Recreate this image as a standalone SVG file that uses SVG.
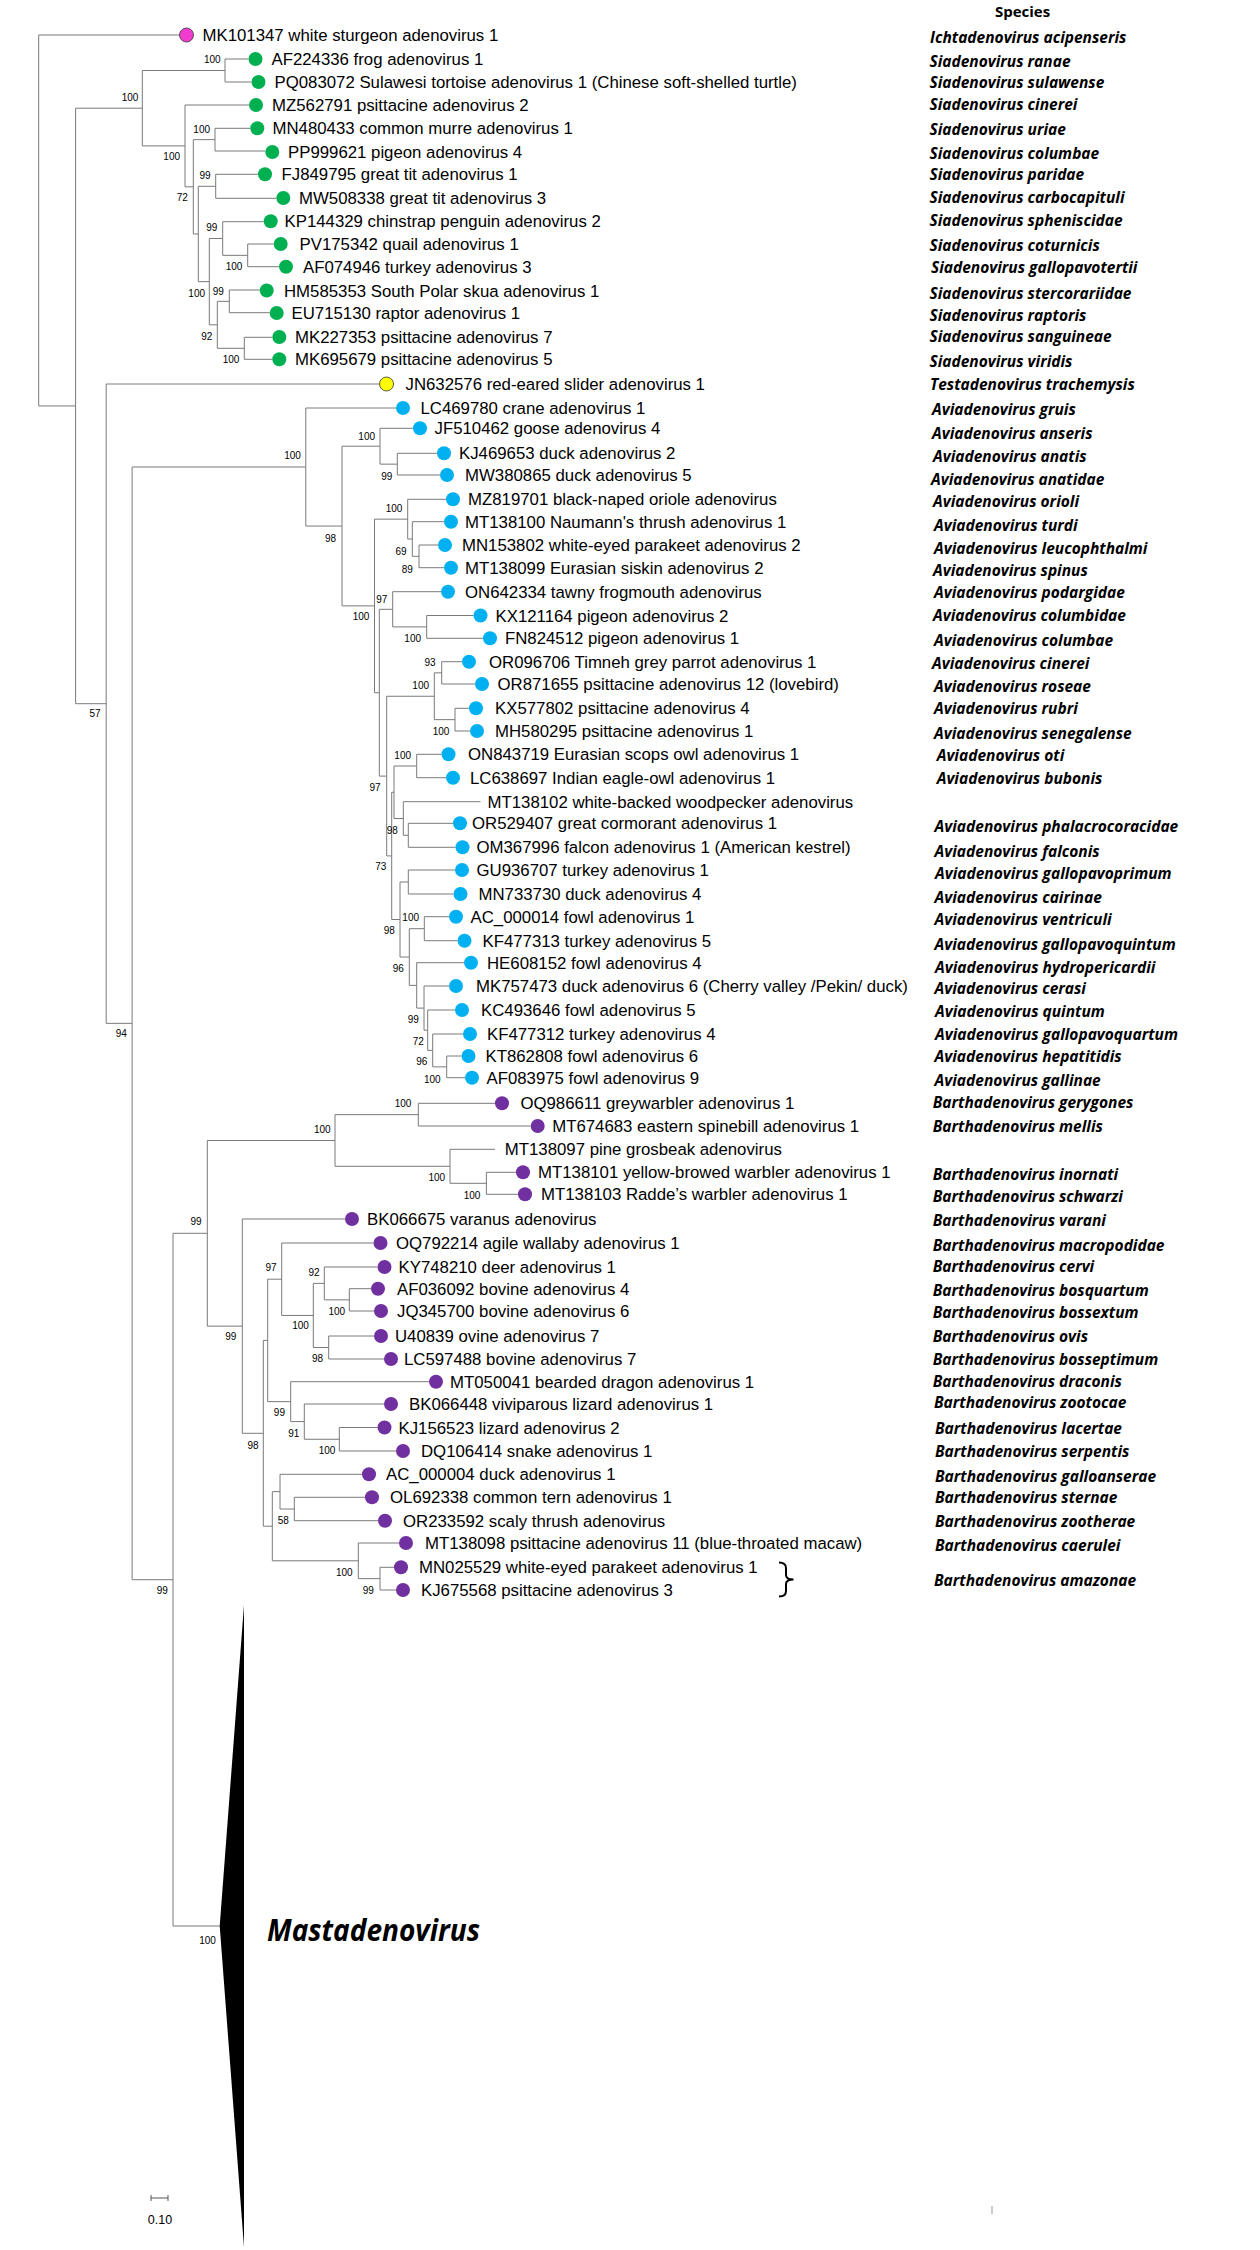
<svg xmlns="http://www.w3.org/2000/svg" width="1260" height="2250" viewBox="0 0 1260 2250">
<style>
.br{stroke:#7a7a7a;stroke-width:1;fill:none}
.lb{font-family:"Liberation Sans",Arial,sans-serif;font-size:16.8px;fill:#000}
.bs{font-family:"Liberation Sans Narrow","Liberation Sans",Arial,sans-serif;font-size:10px;fill:#000;text-anchor:middle}
.sp{font-family:"Open Sans","Noto Sans",sans-serif;font-weight:bold;font-style:italic;font-size:15.5px;fill:#000}
.g{fill:#00b050}.b{fill:#00b0f0}.p{fill:#7030a0}
.pk{fill:#f23ccf;stroke:#333;stroke-width:0.8}.yl{fill:#ffff00;stroke:#333;stroke-width:0.8}
</style>
<rect width="1260" height="2250" fill="#fff"/>
<g id="connectors" class="br">
<path d="M38.7,35 V405.95 M38.7,35 H179.5 M38.7,405.95 H75.6"/>
<path d="M75.6,108.2 V703.7 M75.6,108.2 H142.3 M75.6,703.7 H106.2"/>
<path d="M142.3,70.5 V145.9 M142.3,70.5 H225 M142.3,145.9 H185"/>
<path d="M225,59 V82 M225,59 H248.5 M225,82 H251.5"/>
<path d="M185,105 V186.8 M185,105 H249 M185,186.8 H193.3"/>
<path d="M193.3,139.65 V233.98 M193.3,139.65 H215 M193.3,233.98 H198.3"/>
<path d="M215,128.3 V151 M215,128.3 H250.3 M215,151 H265.3"/>
<path d="M198.3,186.3 V281.65 M198.3,186.3 H215.7 M198.3,281.65 H209.3"/>
<path d="M215.7,174.3 V198.3 M215.7,174.3 H258 M215.7,198.3 H276.3"/>
<path d="M209.3,238.5 V324.8 M209.3,238.5 H222.7 M209.3,324.8 H217.3"/>
<path d="M222.7,221.7 V255.35 M222.7,221.7 H263.7 M222.7,255.35 H247.7"/>
<path d="M247.7,244 V266.7 M247.7,244 H273.7 M247.7,266.7 H279"/>
<path d="M217.3,301.35 V348.3 M217.3,301.35 H229.3 M217.3,348.3 H244.3"/>
<path d="M229.3,290 V312.7 M229.3,290 H259.7 M229.3,312.7 H269.7"/>
<path d="M244.3,337.3 V359.3 M244.3,337.3 H272.3 M244.3,359.3 H272.3"/>
<path d="M106.2,384 V1023.35 M106.2,384 H379.5 M106.2,1023.35 H132.1"/>
<path d="M132.1,467 V1579.7 M132.1,467 H305.8 M132.1,1579.7 H173"/>
<path d="M305.8,408 V526.05 M305.8,408 H396 M305.8,526.05 H342"/>
<path d="M342,446.2 V605.9 M342,446.2 H380 M342,605.9 H374.5"/>
<path d="M380,428.3 V464.15 M380,428.3 H413 M380,464.15 H397.3"/>
<path d="M397.3,453.3 V475 M397.3,453.3 H437 M397.3,475 H440"/>
<path d="M374.5,519.15 V692.7 M374.5,519.15 H407.7 M374.5,692.7 H379.3"/>
<path d="M407.7,499.3 V539 M407.7,499.3 H446 M407.7,539 H412.3"/>
<path d="M412.3,521.7 V556.35 M412.3,521.7 H444 M412.3,556.35 H419"/>
<path d="M419,545 V567.7 M419,545 H438 M419,567.7 H444"/>
<path d="M379.3,609.3 V776.1 M379.3,609.3 H392.7 M379.3,776.1 H386.7"/>
<path d="M392.7,591.7 V626.9 M392.7,591.7 H441 M392.7,626.9 H426.7"/>
<path d="M426.7,615.5 V638.3 M426.7,615.5 H473.5 M426.7,638.3 H483"/>
<path d="M386.7,696.25 V855.9 M386.7,696.25 H434.3 M386.7,855.9 H391.7"/>
<path d="M434.3,672.85 V719.65 M434.3,672.85 H441.7 M434.3,719.65 H455"/>
<path d="M441.7,661.7 V684 M441.7,661.7 H462 M441.7,684 H475"/>
<path d="M455,708.3 V731 M455,708.3 H469 M455,731 H470"/>
<path d="M391.7,792.25 V919.5 M391.7,792.25 H394 M391.7,919.5 H400"/>
<path d="M394,766 V818.5 M394,766 H416.7 M394,818.5 H403.3"/>
<path d="M416.7,754.3 V777.7 M416.7,754.3 H441.5 M416.7,777.7 H446"/>
<path d="M403.3,801.7 V835.3 M403.3,801.7 H480.5 M403.3,835.3 H408.3"/>
<path d="M408.3,823.3 V847.3 M408.3,823.3 H453 M408.3,847.3 H455.5"/>
<path d="M400,882 V957.05 M400,882 H408.3 M400,957.05 H409.3"/>
<path d="M408.3,870 V894 M408.3,870 H455 M408.3,894 H453.5"/>
<path d="M409.3,928.7 V985.4 M409.3,928.7 H424.3 M409.3,985.4 H416.7"/>
<path d="M424.3,916.7 V940.7 M424.3,916.7 H449 M424.3,940.7 H457.5"/>
<path d="M416.7,962.7 V1008.1 M416.7,962.7 H464 M416.7,1008.1 H424"/>
<path d="M424,986 V1030.2 M424,986 H449 M424,1030.2 H427.7"/>
<path d="M427.7,1010 V1050.4 M427.7,1010 H455 M427.7,1050.4 H432.7"/>
<path d="M432.7,1034 V1066.85 M432.7,1034 H463 M432.7,1066.85 H446.7"/>
<path d="M446.7,1056 V1077.7 M446.7,1056 H461.5 M446.7,1077.7 H465"/>
<path d="M173,1233.3 V1926 M173,1233.3 H207.3 M173,1926 H219.7"/>
<path d="M207.3,1140.5 V1326.15 M207.3,1140.5 H335 M207.3,1326.15 H242.3"/>
<path d="M335,1114.65 V1166.3 M335,1114.65 H418.3 M335,1166.3 H450"/>
<path d="M418.3,1103.3 V1126 M418.3,1103.3 H495 M418.3,1126 H530.7"/>
<path d="M450,1149.3 V1183.3 M450,1149.3 H495 M450,1183.3 H486.4"/>
<path d="M486.4,1172.3 V1194.3 M486.4,1172.3 H516 M486.4,1194.3 H518"/>
<path d="M242.3,1219 V1433.3 M242.3,1219 H345 M242.3,1433.3 H263.3"/>
<path d="M263.3,1340.4 V1526.2 M263.3,1340.4 H267.7 M263.3,1526.2 H272.3"/>
<path d="M267.7,1279.2 V1401.65 M267.7,1279.2 H281.7 M267.7,1401.65 H290.7"/>
<path d="M281.7,1243 V1315.45 M281.7,1243 H373.5 M281.7,1315.45 H313.3"/>
<path d="M313.3,1283.4 V1347.5 M313.3,1283.4 H324.3 M313.3,1347.5 H328.7"/>
<path d="M324.3,1267 V1299.85 M324.3,1267 H377.5 M324.3,1299.85 H349.3"/>
<path d="M349.3,1288.7 V1311 M349.3,1288.7 H371 M349.3,1311 H374"/>
<path d="M328.7,1336 V1359 M328.7,1336 H374 M328.7,1359 H384"/>
<path d="M290.7,1381.7 V1421.6 M290.7,1381.7 H429 M290.7,1421.6 H304.3"/>
<path d="M304.3,1404 V1439.25 M304.3,1404 H384 M304.3,1439.25 H339.3"/>
<path d="M339.3,1427.5 V1451 M339.3,1427.5 H377.5 M339.3,1451 H396"/>
<path d="M272.3,1491.65 V1560.8 M272.3,1491.65 H280 M272.3,1560.8 H358.3"/>
<path d="M280,1474.3 V1509 M280,1474.3 H362 M280,1509 H294.3"/>
<path d="M294.3,1497.3 V1520.7 M294.3,1497.3 H365 M294.3,1520.7 H378"/>
<path d="M358.3,1543 V1578.65 M358.3,1543 H399 M358.3,1578.65 H380"/>
<path d="M380,1567.3 V1590 M380,1567.3 H394 M380,1590 H396"/>
</g>
<g id="support-values" class="bs">
<g id="n-sia"><text x="130" y="100.5">100</text></g>
<g id="n-frog"><text x="212.3" y="62.8">100</text></g>
<g id="n-s100b"><text x="171.7" y="160.2">100</text></g>
<g id="n-smp"><text x="201.7" y="132.5">100</text></g>
<g id="n-s72"><text x="182.3" y="201.2">72</text></g>
<g id="n-sgt"><text x="205" y="179.2">99</text></g>
<g id="n-s100c"><text x="196.7" y="296.8">100</text></g>
<g id="n-spqt"><text x="211.7" y="230.8">99</text></g>
<g id="n-sqt"><text x="234" y="270.2">100</text></g>
<g id="n-she"><text x="218.3" y="295.2">99</text></g>
<g id="n-s92"><text x="206.7" y="340.2">92</text></g>
<g id="n-smk"><text x="231" y="362.8">100</text></g>
<g id="n-57"><text x="95" y="716.5">57</text></g>
<g id="n-94"><text x="121.2" y="1036.8">94</text></g>
<g id="n-avi"><text x="292.5" y="459.2">100</text></g>
<g id="n-a98"><text x="330.5" y="541.5">98</text></g>
<g id="n-agoose"><text x="366.7" y="440.2">100</text></g>
<g id="n-aduck"><text x="386.7" y="480.2">99</text></g>
<g id="n-aor"><text x="394" y="511.8">100</text></g>
<g id="n-a69"><text x="401" y="554.5">69</text></g>
<g id="n-a89"><text x="407.3" y="572.5">89</text></g>
<g id="n-a97a"><text x="381.7" y="602.5">97</text></g>
<g id="n-an1"><text x="361" y="620.2">100</text></g>
<g id="n-apig"><text x="412.7" y="641.8">100</text></g>
<g id="n-atl"><text x="430" y="666.2">93</text></g>
<g id="n-apsi"><text x="420.7" y="689.2">100</text></g>
<g id="n-akm"><text x="441" y="735.2">100</text></g>
<g id="n-aowl"><text x="402.7" y="759.2">100</text></g>
<g id="n-an3"><text x="375" y="791">97</text></g>
<g id="n-an7"><text x="392.3" y="833.5">98</text></g>
<g id="n-an5"><text x="380.7" y="870.2">73</text></g>
<g id="n-aak"><text x="410.7" y="920.8">100</text></g>
<g id="n-an8"><text x="389.3" y="934.2">98</text></g>
<g id="n-an9"><text x="398.3" y="971.8">96</text></g>
<g id="n-an11"><text x="413.3" y="1022.8">99</text></g>
<g id="n-an12"><text x="418.3" y="1045.2">72</text></g>
<g id="n-an13"><text x="421.7" y="1065.2">96</text></g>
<g id="n-akt"><text x="432.3" y="1082.8">100</text></g>
<g id="n-bgs"><text x="403" y="1107.2">100</text></g>
<g id="n-b100"><text x="322.3" y="1132.8">100</text></g>
<g id="n-bpg"><text x="436.8" y="1180.8">100</text></g>
<g id="n-byr"><text x="472" y="1198.5">100</text></g>
<g id="n-barth"><text x="196" y="1225.2">99</text></g>
<g id="n-b99b"><text x="230.7" y="1340.2">99</text></g>
<g id="n-bag"><text x="271" y="1271.2">97</text></g>
<g id="n-b92"><text x="314" y="1276.2">92</text></g>
<g id="n-bbov"><text x="336.8" y="1315.2">100</text></g>
<g id="n-br"><text x="300.6" y="1329.2">100</text></g>
<g id="n-b98c"><text x="317.6" y="1362.2">98</text></g>
<g id="n-brep"><text x="279.4" y="1416.2">99</text></g>
<g id="n-b91"><text x="293.8" y="1437.2">91</text></g>
<g id="n-bkd"><text x="327" y="1454.2">100</text></g>
<g id="n-b98"><text x="253" y="1448.5">98</text></g>
<g id="n-b58"><text x="283.3" y="1524.2">58</text></g>
<g id="n-bm"><text x="344.3" y="1576.2">100</text></g>
<g id="n-b99d"><text x="368.3" y="1593.5">99</text></g>
<g id="n-99"><text x="162.3" y="1594">99</text></g>
<g id="n-masta"><text x="207.6" y="1943.5">100</text></g>
</g>
<g id="leaves" class="lb">
<g id="leaf-MK101347"><circle class="pk" cx="186.5" cy="35" r="7"/><text x="202.5" y="41">MK101347 white sturgeon adenovirus 1</text></g>
<g id="leaf-AF224336"><circle class="g" cx="255.5" cy="59" r="7"/><text x="271.5" y="65">AF224336 frog adenovirus 1</text></g>
<g id="leaf-PQ083072"><circle class="g" cx="258.5" cy="82" r="7"/><text x="274.5" y="88">PQ083072 Sulawesi tortoise adenovirus 1 (Chinese soft-shelled turtle)</text></g>
<g id="leaf-MZ562791"><circle class="g" cx="256" cy="105" r="7"/><text x="272" y="111">MZ562791 psittacine adenovirus 2</text></g>
<g id="leaf-MN480433"><circle class="g" cx="257.3" cy="128.3" r="7"/><text x="272.5" y="134.3">MN480433 common murre adenovirus 1</text></g>
<g id="leaf-PP999621"><circle class="g" cx="272.3" cy="152" r="7"/><text x="288" y="158">PP999621 pigeon adenovirus 4</text></g>
<g id="leaf-FJ849795"><circle class="g" cx="265" cy="174.3" r="7"/><text x="281.5" y="180.3">FJ849795 great tit adenovirus 1</text></g>
<g id="leaf-MW508338"><circle class="g" cx="283.3" cy="198" r="7"/><text x="299" y="204">MW508338 great tit adenovirus 3</text></g>
<g id="leaf-KP144329"><circle class="g" cx="270.7" cy="221.3" r="7"/><text x="284.5" y="227.3">KP144329 chinstrap penguin adenovirus 2</text></g>
<g id="leaf-PV175342"><circle class="g" cx="280.7" cy="244" r="7"/><text x="299.5" y="250">PV175342 quail adenovirus 1</text></g>
<g id="leaf-AF074946"><circle class="g" cx="286" cy="266.7" r="7"/><text x="303" y="272.7">AF074946 turkey adenovirus 3</text></g>
<g id="leaf-HM585353"><circle class="g" cx="266.7" cy="290.5" r="7"/><text x="284" y="296.5">HM585353 South Polar skua adenovirus 1</text></g>
<g id="leaf-EU715130"><circle class="g" cx="276.7" cy="313" r="7"/><text x="291.5" y="319">EU715130 raptor adenovirus 1</text></g>
<g id="leaf-MK227353"><circle class="g" cx="279.3" cy="337" r="7"/><text x="295" y="343">MK227353 psittacine adenovirus 7</text></g>
<g id="leaf-MK695679"><circle class="g" cx="279.3" cy="359.3" r="7"/><text x="295" y="365.3">MK695679 psittacine adenovirus 5</text></g>
<g id="leaf-JN632576"><circle class="yl" cx="386.5" cy="384" r="7"/><text x="405.5" y="390">JN632576 red-eared slider adenovirus 1</text></g>
<g id="leaf-LC469780"><circle class="b" cx="403" cy="408" r="7"/><text x="420.5" y="414">LC469780 crane adenovirus 1</text></g>
<g id="leaf-JF510462"><circle class="b" cx="420" cy="428.3" r="7"/><text x="434.5" y="434.3">JF510462 goose adenovirus 4</text></g>
<g id="leaf-KJ469653"><circle class="b" cx="444" cy="453.3" r="7"/><text x="459" y="459.3">KJ469653 duck adenovirus 2</text></g>
<g id="leaf-MW380865"><circle class="b" cx="447" cy="475" r="7"/><text x="465" y="481">MW380865 duck adenovirus 5</text></g>
<g id="leaf-MZ819701"><circle class="b" cx="453" cy="499.3" r="7"/><text x="468" y="505.3">MZ819701 black-naped oriole adenovirus</text></g>
<g id="leaf-MT138100"><circle class="b" cx="451" cy="521.7" r="7"/><text x="465" y="527.7">MT138100 Naumann's thrush adenovirus 1</text></g>
<g id="leaf-MN153802"><circle class="b" cx="445" cy="545" r="7"/><text x="462" y="551">MN153802 white-eyed parakeet adenovirus 2</text></g>
<g id="leaf-MT138099"><circle class="b" cx="451" cy="567.7" r="7"/><text x="465" y="573.7">MT138099 Eurasian siskin adenovirus 2</text></g>
<g id="leaf-ON642334"><circle class="b" cx="448" cy="591.7" r="7"/><text x="465" y="597.7">ON642334 tawny frogmouth adenovirus</text></g>
<g id="leaf-KX121164"><circle class="b" cx="480.5" cy="615.5" r="7"/><text x="495.5" y="621.5">KX121164 pigeon adenovirus 2</text></g>
<g id="leaf-FN824512"><circle class="b" cx="490" cy="638.3" r="7"/><text x="505" y="644.3">FN824512 pigeon adenovirus 1</text></g>
<g id="leaf-OR096706"><circle class="b" cx="469" cy="661.7" r="7"/><text x="489" y="667.7">OR096706 Timneh grey parrot adenovirus 1</text></g>
<g id="leaf-OR871655"><circle class="b" cx="482" cy="684" r="7"/><text x="497.5" y="690">OR871655 psittacine adenovirus 12 (lovebird)</text></g>
<g id="leaf-KX577802"><circle class="b" cx="476" cy="708.3" r="7"/><text x="495" y="714.3">KX577802 psittacine adenovirus 4</text></g>
<g id="leaf-MH580295"><circle class="b" cx="477" cy="731" r="7"/><text x="495" y="737">MH580295 psittacine adenovirus 1</text></g>
<g id="leaf-ON843719"><circle class="b" cx="448.5" cy="754.3" r="7"/><text x="468" y="760.3">ON843719 Eurasian scops owl adenovirus 1</text></g>
<g id="leaf-LC638697"><circle class="b" cx="453" cy="777.7" r="7"/><text x="470" y="783.7">LC638697 Indian eagle-owl adenovirus 1</text></g>
<g id="leaf-MT138102"><text x="487.5" y="807.7">MT138102 white-backed woodpecker adenovirus</text></g>
<g id="leaf-OR529407"><circle class="b" cx="460" cy="823.3" r="7"/><text x="472" y="829.3">OR529407 great cormorant adenovirus 1</text></g>
<g id="leaf-OM367996"><circle class="b" cx="462.5" cy="847.3" r="7"/><text x="476.5" y="853.3">OM367996 falcon adenovirus 1 (American kestrel)</text></g>
<g id="leaf-GU936707"><circle class="b" cx="462" cy="870" r="7"/><text x="476.5" y="876">GU936707 turkey adenovirus 1</text></g>
<g id="leaf-MN733730"><circle class="b" cx="460.5" cy="894" r="7"/><text x="478.5" y="900">MN733730 duck adenovirus 4</text></g>
<g id="leaf-AC_000014"><circle class="b" cx="456" cy="916.7" r="7"/><text x="470.5" y="922.7">AC_000014 fowl adenovirus 1</text></g>
<g id="leaf-KF477313"><circle class="b" cx="464.5" cy="940.7" r="7"/><text x="482.5" y="946.7">KF477313 turkey adenovirus 5</text></g>
<g id="leaf-HE608152"><circle class="b" cx="471" cy="962.7" r="7"/><text x="487" y="968.7">HE608152 fowl adenovirus 4</text></g>
<g id="leaf-MK757473"><circle class="b" cx="456" cy="986" r="7"/><text x="476" y="992">MK757473 duck adenovirus 6 (Cherry valley /Pekin/ duck)</text></g>
<g id="leaf-KC493646"><circle class="b" cx="462" cy="1010" r="7"/><text x="481" y="1016">KC493646 fowl adenovirus 5</text></g>
<g id="leaf-KF477312"><circle class="b" cx="470" cy="1034" r="7"/><text x="487" y="1040">KF477312 turkey adenovirus 4</text></g>
<g id="leaf-KT862808"><circle class="b" cx="468.5" cy="1056" r="7"/><text x="485.5" y="1062">KT862808 fowl adenovirus 6</text></g>
<g id="leaf-AF083975"><circle class="b" cx="472" cy="1077.7" r="7"/><text x="486.5" y="1083.7">AF083975 fowl adenovirus 9</text></g>
<g id="leaf-OQ986611"><circle class="p" cx="502" cy="1103.3" r="7"/><text x="520.4" y="1109.3">OQ986611 greywarbler adenovirus 1</text></g>
<g id="leaf-MT674683"><circle class="p" cx="537.7" cy="1126" r="7"/><text x="552.2" y="1132">MT674683 eastern spinebill adenovirus 1</text></g>
<g id="leaf-MT138097"><text x="504.8" y="1155.3">MT138097 pine grosbeak adenovirus</text></g>
<g id="leaf-MT138101"><circle class="p" cx="523" cy="1172.3" r="7"/><text x="538" y="1178.3">MT138101 yellow-browed warbler adenovirus 1</text></g>
<g id="leaf-MT138103"><circle class="p" cx="525" cy="1194.3" r="7"/><text x="541" y="1200.3">MT138103 Radde’s warbler adenovirus 1</text></g>
<g id="leaf-BK066675"><circle class="p" cx="352" cy="1219" r="7"/><text x="367" y="1225">BK066675 varanus adenovirus</text></g>
<g id="leaf-OQ792214"><circle class="p" cx="380.5" cy="1243" r="7"/><text x="396" y="1249">OQ792214 agile wallaby adenovirus 1</text></g>
<g id="leaf-KY748210"><circle class="p" cx="384.5" cy="1267" r="7"/><text x="398.5" y="1273">KY748210 deer adenovirus 1</text></g>
<g id="leaf-AF036092"><circle class="p" cx="378" cy="1288.7" r="7"/><text x="397" y="1294.7">AF036092 bovine adenovirus 4</text></g>
<g id="leaf-JQ345700"><circle class="p" cx="381" cy="1311" r="7"/><text x="397" y="1317">JQ345700 bovine adenovirus 6</text></g>
<g id="leaf-U40839"><circle class="p" cx="381" cy="1336" r="7"/><text x="395" y="1342">U40839 ovine adenovirus 7</text></g>
<g id="leaf-LC597488"><circle class="p" cx="391" cy="1359" r="7"/><text x="404" y="1365">LC597488 bovine adenovirus 7</text></g>
<g id="leaf-MT050041"><circle class="p" cx="436" cy="1381.7" r="7"/><text x="450" y="1387.7">MT050041 bearded dragon adenovirus 1</text></g>
<g id="leaf-BK066448"><circle class="p" cx="391" cy="1404" r="7"/><text x="409" y="1410">BK066448 viviparous lizard adenovirus 1</text></g>
<g id="leaf-KJ156523"><circle class="p" cx="384.5" cy="1427.5" r="7"/><text x="398.5" y="1433.5">KJ156523 lizard adenovirus 2</text></g>
<g id="leaf-DQ106414"><circle class="p" cx="403" cy="1451" r="7"/><text x="421" y="1457">DQ106414 snake adenovirus 1</text></g>
<g id="leaf-AC_000004"><circle class="p" cx="369" cy="1474.3" r="7"/><text x="386" y="1480.3">AC_000004 duck adenovirus 1</text></g>
<g id="leaf-OL692338"><circle class="p" cx="372" cy="1497.3" r="7"/><text x="390" y="1503.3">OL692338 common tern adenovirus 1</text></g>
<g id="leaf-OR233592"><circle class="p" cx="385" cy="1520.7" r="7"/><text x="403" y="1526.7">OR233592 scaly thrush adenovirus</text></g>
<g id="leaf-MT138098"><circle class="p" cx="406" cy="1543" r="7"/><text x="425" y="1549">MT138098 psittacine adenovirus 11 (blue-throated macaw)</text></g>
<g id="leaf-MN025529"><circle class="p" cx="401" cy="1567.3" r="7"/><text x="419" y="1573.3">MN025529 white-eyed parakeet adenovirus 1</text></g>
<g id="leaf-KJ675568"><circle class="p" cx="403" cy="1590" r="7"/><text x="421" y="1596">KJ675568 psittacine adenovirus 3</text></g>
</g>
<g id="mastadenovirus">
<polygon points="244,1605 219.7,1926 244,2247" fill="#000"/>
<text x="267" y="1941" font-family="'Open Sans','Noto Sans',sans-serif" font-weight="bold" font-style="italic" font-size="29.5" textLength="213" lengthAdjust="spacingAndGlyphs">Mastadenovirus</text>
</g>
<path id="bracket" d="M779,1562.5 Q786,1562.5 786,1568 V1575 Q786,1579.5 793.5,1579.5 Q786,1579.5 786,1584 V1591 Q786,1596.5 779,1596.5" fill="none" stroke="#000" stroke-width="2"/>
<g id="species-column" class="sp">
<text x="1022.5" y="17" text-anchor="middle" font-style="normal" font-size="15">Species</text>
<text x="930" y="43.2">Ichtadenovirus acipenseris</text>
<text x="929.5" y="67.2">Siadenovirus ranae</text>
<text x="929.5" y="88.1">Siadenovirus sulawense</text>
<text x="929.5" y="110.3">Siadenovirus cinerei</text>
<text x="929.5" y="134.7">Siadenovirus uriae</text>
<text x="929.5" y="159.1">Siadenovirus columbae</text>
<text x="929.5" y="179.5">Siadenovirus paridae</text>
<text x="929.5" y="202.9">Siadenovirus carbocapituli</text>
<text x="929.5" y="226.2">Siadenovirus spheniscidae</text>
<text x="929.5" y="250.5">Siadenovirus coturnicis</text>
<text x="931" y="272.9">Siadenovirus gallopavotertii</text>
<text x="929.5" y="299.1">Siadenovirus stercorariidae</text>
<text x="929.5" y="321.4">Siadenovirus raptoris</text>
<text x="929.5" y="342.2">Siadenovirus sanguineae</text>
<text x="929.5" y="367.3">Siadenovirus viridis</text>
<text x="930" y="390.3">Testadenovirus trachemysis</text>
<text x="932" y="415.4">Aviadenovirus gruis</text>
<text x="932" y="438.7">Aviadenovirus anseris</text>
<text x="933" y="462.1">Aviadenovirus anatis</text>
<text x="931" y="484.7">Aviadenovirus anatidae</text>
<text x="933" y="507.3">Aviadenovirus orioli</text>
<text x="934" y="531.3">Aviadenovirus turdi</text>
<text x="934" y="553.5">Aviadenovirus leucophthalmi</text>
<text x="933" y="576">Aviadenovirus spinus</text>
<text x="934" y="598.3">Aviadenovirus podargidae</text>
<text x="933" y="620.9">Aviadenovirus columbidae</text>
<text x="934" y="646">Aviadenovirus columbae</text>
<text x="932" y="669.3">Aviadenovirus cinerei</text>
<text x="934" y="691.5">Aviadenovirus roseae</text>
<text x="934" y="714.2">Aviadenovirus rubri</text>
<text x="934" y="739.3">Aviadenovirus senegalense</text>
<text x="936.7" y="760.9">Aviadenovirus oti</text>
<text x="936.7" y="783.5">Aviadenovirus bubonis</text>
<text x="934.6" y="831.9">Aviadenovirus phalacrocoracidae</text>
<text x="934.6" y="857.1">Aviadenovirus falconis</text>
<text x="935" y="879.3">Aviadenovirus gallopavoprimum</text>
<text x="934.6" y="903.4">Aviadenovirus cairinae</text>
<text x="934.6" y="925.3">Aviadenovirus ventriculi</text>
<text x="934.6" y="950.4">Aviadenovirus gallopavoquintum</text>
<text x="935" y="973.4">Aviadenovirus hydropericardii</text>
<text x="934.6" y="993.5">Aviadenovirus cerasi</text>
<text x="935" y="1016.8">Aviadenovirus quintum</text>
<text x="935" y="1040.1">Aviadenovirus gallopavoquartum</text>
<text x="934.6" y="1062.4">Aviadenovirus hepatitidis</text>
<text x="934.6" y="1085.7">Aviadenovirus gallinae</text>
<text x="932.7" y="1108.2">Barthadenovirus gerygones</text>
<text x="932.7" y="1131.5">Barthadenovirus mellis</text>
<text x="932.7" y="1179.8">Barthadenovirus inornati</text>
<text x="932.7" y="1202.2">Barthadenovirus schwarzi</text>
<text x="932.7" y="1226.2">Barthadenovirus varani</text>
<text x="932.7" y="1250.5">Barthadenovirus macropodidae</text>
<text x="932.7" y="1272.2">Barthadenovirus cervi</text>
<text x="932.7" y="1296.2">Barthadenovirus bosquartum</text>
<text x="932.7" y="1318.2">Barthadenovirus bossextum</text>
<text x="932.7" y="1341.5">Barthadenovirus ovis</text>
<text x="932.7" y="1364.8">Barthadenovirus bosseptimum</text>
<text x="932.7" y="1387.2">Barthadenovirus draconis</text>
<text x="934" y="1408.2">Barthadenovirus zootocae</text>
<text x="935" y="1433.8">Barthadenovirus lacertae</text>
<text x="935" y="1457.2">Barthadenovirus serpentis</text>
<text x="935" y="1482.2">Barthadenovirus galloanserae</text>
<text x="935" y="1503.2">Barthadenovirus sternae</text>
<text x="935" y="1526.5">Barthadenovirus zootherae</text>
<text x="935" y="1551.2">Barthadenovirus caerulei</text>
<text x="934" y="1585.5">Barthadenovirus amazonae</text>
</g>
<g id="scale-bar">
<path d="M151,2198 H168 M151,2195 V2201 M168,2195 V2201" stroke="#555" stroke-width="1" fill="none"/>
<text x="160" y="2224" text-anchor="middle" font-family="'Liberation Sans Narrow','Liberation Sans',sans-serif" font-size="12.5">0.10</text>
</g>
<path id="tick" d="M992,2206 V2214" stroke="#999" stroke-width="1"/>
</svg>
